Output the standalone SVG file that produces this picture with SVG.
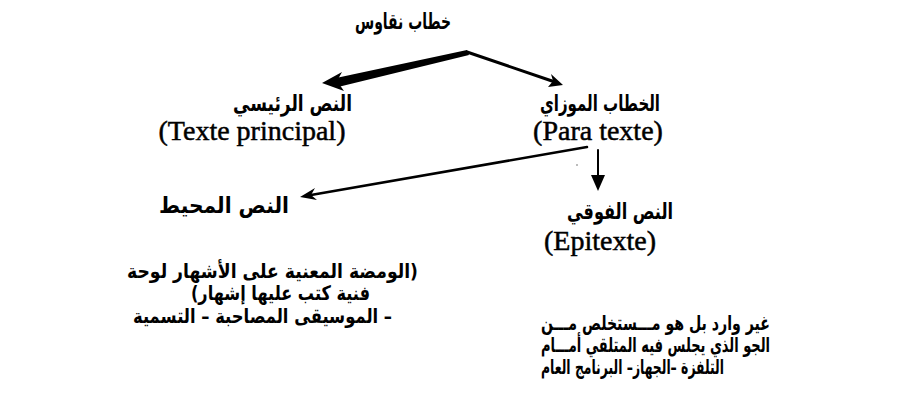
<svg xmlns="http://www.w3.org/2000/svg" width="898" height="406" viewBox="0 0 898 406">
<style>
.ar{font-family:"DejaVu Sans","Noto Sans",sans-serif;font-weight:bold;font-size:22px;fill:#000;direction:rtl}
.sm{font-size:20px}
.lat{font-family:"Liberation Serif","Times New Roman",serif;font-size:28px;fill:#000;stroke:#000;stroke-width:0.5}
.ln{stroke:#000;fill:none;stroke-linecap:round}
.hd{fill:#000;stroke:none}
</style>
<rect width="898" height="406" fill="#fff"/>
<g id="title"><text class="ar" x="403" y="29" direction="rtl" text-anchor="middle" textLength="96" lengthAdjust="spacingAndGlyphs">خطاب نقاوس</text></g>
<g id="main"><text class="ar" x="292.5" y="111" direction="rtl" text-anchor="middle" textLength="119" lengthAdjust="spacingAndGlyphs">النص الرئيسي</text>
<text class="lat" x="252" y="140" text-anchor="middle" font-size="30.5">(Texte principal)</text></g>
<g id="para"><text class="ar" x="600" y="111" direction="rtl" text-anchor="middle" textLength="120" lengthAdjust="spacingAndGlyphs">الخطاب الموزاي</text>
<text class="lat" x="598" y="140" text-anchor="middle">(Para texte)</text></g>
<g id="peri"><text class="ar" x="224" y="213" direction="rtl" text-anchor="middle" textLength="130" lengthAdjust="spacingAndGlyphs">النص المحيط</text>
<text class="ar sm" x="272.5" y="278" direction="rtl" text-anchor="middle" textLength="291" lengthAdjust="spacingAndGlyphs">(الومضة المعنية على الأشهار لوحة</text>
<text class="ar sm" x="280.5" y="300" direction="rtl" text-anchor="middle" textLength="179" lengthAdjust="spacingAndGlyphs">فنية كتب عليها إشهار)</text>
<text class="ar sm" x="262.5" y="323" direction="rtl" text-anchor="middle" textLength="259" lengthAdjust="spacingAndGlyphs">– الموسيقى المصاحبة – التسمية</text></g>
<g id="epi"><text class="ar" x="620" y="219" direction="rtl" text-anchor="middle" textLength="106" lengthAdjust="spacingAndGlyphs">النص الفوقي</text>
<text class="lat" x="600" y="250" text-anchor="middle">(Epitexte)</text>
<text class="ar sm" x="655.5" y="330" direction="rtl" text-anchor="middle" textLength="229" lengthAdjust="spacingAndGlyphs">غير وارد بل هو مـــستخلص مـــن</text>
<text class="ar sm" x="655.5" y="352" direction="rtl" text-anchor="middle" textLength="229" lengthAdjust="spacingAndGlyphs">الجو الذي يجلس فيه المتلقي أمـــام</text>
<text class="ar sm" x="632.5" y="374" direction="rtl" text-anchor="middle" textLength="183" lengthAdjust="spacingAndGlyphs">التلفزة –الجهاز– البرنامج العام</text></g>
<g id="connectors">
<polygon class="hd" points="467,50 469,55 338,87 336,78"/>
<polygon class="hd" points="322,83 342,72 337,81 344,91"/>
<path class="ln" d="M467,52 L552,81" stroke-width="3"/>
<polygon class="hd" points="563,85 551,74 553,81 548,87"/>
<path class="ln" d="M587,147 L311,195" stroke-width="2.5"/>
<polygon class="hd" points="300,197 315,188 311,195 317,200"/>
<path class="ln" d="M598,150 L598,178" stroke-width="2"/>
<polygon class="hd" points="598,191 591,175 605,175"/>
<circle cx="577" cy="165" r="0.8" fill="#666"/>
</g>
</svg>
